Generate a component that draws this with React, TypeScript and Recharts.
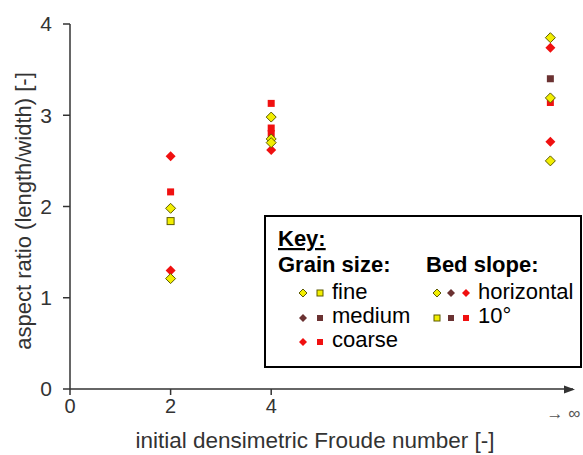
import React from 'react';
import { ScatterChart, Scatter, XAxis, YAxis } from 'recharts';

// x position used for the "→ ∞" column
const INF = 9.55;

const xTicks = [0, 2, 4, INF];
const yTicks = [0, 1, 2, 3, 4];

// grain size / bed slope groups
const fineHorizontal = [
  { x: 2, y: 1.98 }, { x: 2, y: 1.21 },
  { x: 4, y: 2.98 }, { x: 4, y: 2.74 }, { x: 4, y: 2.7 },
  { x: INF, y: 3.85 }, { x: INF, y: 3.19 }, { x: INF, y: 2.5 },
];
const fineSlope = [{ x: 2, y: 1.84 }];
const mediumHorizontal: { x: number; y: number }[] = [];
const mediumSlope = [{ x: INF, y: 3.4 }];
const coarseHorizontal = [
  { x: 2, y: 2.55 }, { x: 2, y: 1.3 },
  { x: 4, y: 2.62 },
  { x: INF, y: 3.74 }, { x: INF, y: 2.71 },
];
const coarseSlope = [
  { x: 2, y: 2.16 },
  { x: 4, y: 3.13 }, { x: 4, y: 2.86 }, { x: 4, y: 2.8 },
  { x: INF, y: 3.14 },
];

const YELLOW = '#f2ee00';
const YELLOW_EDGE = '#5c5a00';
const BROWN = '#6b3232';
const RED = '#f01010';
const AXIS = '#333';
const FONT = '"Liberation Sans", Arial, sans-serif';

const Diamond = ({ cx, cy, fill, stroke, r = 5 }: any) => (
  <polygon
    points={`${cx},${cy - r} ${cx + r},${cy} ${cx},${cy + r} ${cx - r},${cy}`}
    fill={fill}
    stroke={stroke || 'none'}
    strokeWidth={1}
  />
);

const Square = ({ cx, cy, fill, stroke, r = 3.5 }: any) => (
  <rect x={cx - r} y={cy - r} width={2 * r} height={2 * r} fill={fill} stroke={stroke || 'none'} strokeWidth={1} />
);

const XTick = ({ x, y, payload }: any) => {
  if (payload.value === INF) {
    return (
      <text x={x + 13} y={y + 14} textAnchor="middle" dominantBaseline="central" fontSize={17} fill="#555" fontFamily={FONT}>
        → ∞
      </text>
    );
  }
  return (
    <g>
      <line x1={x} x2={x} y1={y - 10} y2={y - 4} stroke={AXIS} strokeWidth={1.5} />
      <text x={x} y={y} textAnchor="middle" dominantBaseline="hanging" fontSize={20} fill={AXIS} fontFamily={FONT}>
        {payload.value}
      </text>
    </g>
  );
};

const YLabel = () => (
  <text x={23} y={211} transform="rotate(-90 23 211)" textAnchor="middle" dominantBaseline="central" fontSize={22} fill={AXIS} fontFamily={FONT}>
    aspect ratio (length/width) [-]
  </text>
);

const XLabel = () => (
  <text x={315} y={440} textAnchor="middle" dominantBaseline="central" fontSize={22.5} fill={AXIS} fontFamily={FONT}>
    initial densimetric Froude number [-]
  </text>
);

const Overlay = () => (
  <svg width={583} height={455} style={{ position: 'absolute', left: 0, top: 0, pointerEvents: 'none' }}>
    {/* arrow head at the end of the x axis */}
    <polygon points="575,389.5 564,385.5 564,393.5" fill={AXIS} />
    <rect x={265} y={216} width={316} height={151} fill="#fff" stroke="#000" strokeWidth={2} />
    <g fontFamily={FONT} fill="#000">
      <text x={278} y={246} fontSize={22} fontWeight="bold" textDecoration="underline">Key:</text>
      <text x={278} y={272} fontSize={22} fontWeight="bold">Grain size:</text>
      <text x={426} y={272} fontSize={22} fontWeight="bold">Bed slope:</text>
      <text x={332} y={299} fontSize={22}>fine</text>
      <text x={332} y={323} fontSize={22}>medium</text>
      <text x={332} y={347} fontSize={22}>coarse</text>
      <text x={478} y={299} fontSize={22}>horizontal</text>
      <text x={478} y={323} fontSize={22}>10°</text>
    </g>
    <Diamond cx={303} cy={293} r={4} fill={YELLOW} stroke={YELLOW_EDGE} />
    <Square cx={320} cy={293} r={3} fill={YELLOW} stroke={YELLOW_EDGE} />
    <Diamond cx={303} cy={318} r={4} fill={BROWN} />
    <Square cx={320} cy={318} r={3} fill={BROWN} />
    <Diamond cx={303} cy={342} r={4} fill={RED} />
    <Square cx={320} cy={342} r={3} fill={RED} />
    <Diamond cx={437} cy={293} r={4} fill={YELLOW} stroke={YELLOW_EDGE} />
    <Diamond cx={451} cy={293} r={4} fill={BROWN} />
    <Diamond cx={466} cy={293} r={4} fill={RED} />
    <Square cx={437} cy={318} r={3} fill={YELLOW} stroke={YELLOW_EDGE} />
    <Square cx={451} cy={318} r={3} fill={BROWN} />
    <Square cx={466} cy={318} r={3} fill={RED} />
  </svg>
);

export default function App() {
  return (
    <div style={{ position: 'absolute', left: 0, top: 0, width: 583, height: 455, background: '#fff' }}>
      <ScatterChart width={583} height={455} margin={{ top: 24, right: 10, left: 0, bottom: 0 }}>
        <XAxis
          type="number"
          dataKey="x"
          domain={[0, 10]}
          ticks={xTicks}
          tickLine={false}
          tickSize={6}
          tickMargin={4}
          height={66}
          axisLine={{ stroke: AXIS, strokeWidth: 1.5 }}
          tick={<XTick />}
          label={<XLabel />}
        />
        <YAxis
          type="number"
          dataKey="y"
          domain={[0, 4]}
          ticks={yTicks}
          width={70}
          tickSize={7}
          tickMargin={11}
          axisLine={{ stroke: AXIS, strokeWidth: 1.5 }}
          tickLine={{ stroke: AXIS, strokeWidth: 1.5 }}
          tick={{ fontSize: 21, fill: AXIS, fontFamily: FONT }}
          label={<YLabel />}
        />
        <Scatter data={coarseSlope} isAnimationActive={false} shape={(p: any) => <Square {...p} fill={RED} />} />
        <Scatter data={coarseHorizontal} isAnimationActive={false} shape={(p: any) => <Diamond {...p} fill={RED} />} />
        <Scatter data={mediumSlope} isAnimationActive={false} shape={(p: any) => <Square {...p} fill={BROWN} />} />
        <Scatter data={mediumHorizontal} isAnimationActive={false} shape={(p: any) => <Diamond {...p} fill={BROWN} />} />
        <Scatter data={fineSlope} isAnimationActive={false} shape={(p: any) => <Square {...p} fill={YELLOW} stroke={YELLOW_EDGE} />} />
        <Scatter data={fineHorizontal} isAnimationActive={false} shape={(p: any) => <Diamond {...p} fill={YELLOW} stroke={YELLOW_EDGE} />} />
      </ScatterChart>
      <Overlay />
    </div>
  );
}
